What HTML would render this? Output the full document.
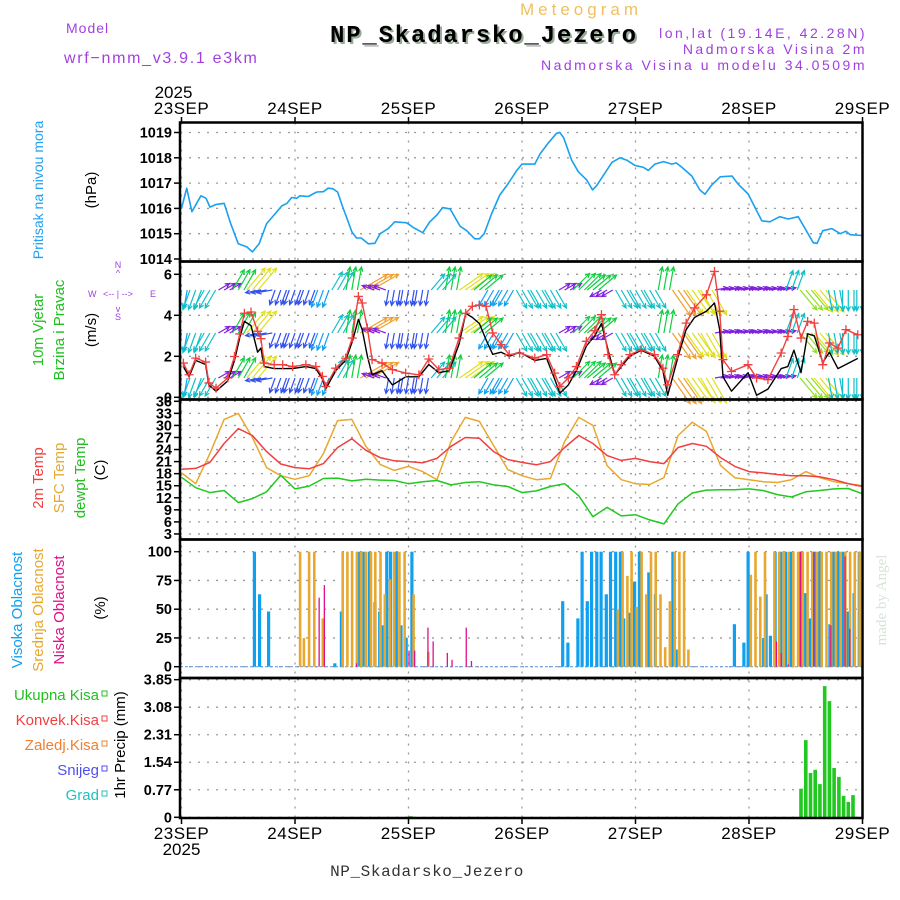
<!DOCTYPE html>
<html><head><meta charset="utf-8"><style>
body{margin:0;background:#fff;}
svg{display:block;font-family:"Liberation Sans",sans-serif;}
</style></head><body>
<svg id="chart" width="900" height="900" viewBox="0 0 900 900" xmlns="http://www.w3.org/2000/svg">
<defs><clipPath id="plotclip"><rect x="180" y="122" width="683" height="697"/></clipPath></defs>
<rect x="0" y="0" width="900" height="900" fill="#fff"/>
<g id="grid"></g>
<g id="marks" clip-path="url(#plotclip)"></g>
<g id="frames"></g>
<g id="labels"></g>

<text x="66" y="33" font-size="14" fill="#a040e0" letter-spacing="1">Model</text>
<text x="64" y="63" font-size="16" fill="#a040e0" letter-spacing="1.7">wrf−nmm_v3.9.1 e3km</text>
<text x="520" y="15" font-size="17" fill="#f0c060" letter-spacing="4">Meteogram</text>
<text x="332" y="44" font-size="24" font-weight="bold" fill="#9a9" font-family="Liberation Mono,monospace" letter-spacing="1.8">NP_Skadarsko_Jezero</text>
<text x="330" y="42" font-size="24" font-weight="bold" fill="#000" font-family="Liberation Mono,monospace" letter-spacing="1.8">NP_Skadarsko_Jezero</text>
<text x="867" y="38" font-size="14" fill="#a040e0" text-anchor="end" letter-spacing="2.5">lon,lat (19.14E, 42.28N)</text>
<text x="867" y="54" font-size="14" fill="#a040e0" text-anchor="end" letter-spacing="2.5">Nadmorska Visina 2m</text>
<text x="867" y="70" font-size="14" fill="#a040e0" text-anchor="end" letter-spacing="2.5">Nadmorska Visina u modelu 34.0509m</text>
<text x="427" y="876" font-size="16" fill="#333" text-anchor="middle" font-family="Liberation Mono,monospace" letter-spacing="0.6">NP_Skadarsko_Jezero</text>
<text transform="translate(886,600) rotate(-90)" font-size="15" fill="#d8e4d8" text-anchor="middle" font-family="Liberation Serif,serif">made by Angel</text>

<text transform="translate(43,190) rotate(-90)" font-size="14" fill="#20a0f0" text-anchor="middle">Pritisak na nivou mora</text>
<text transform="translate(96,190) rotate(-90)" font-size="15" fill="#000" text-anchor="middle">(hPa)</text>
<text transform="translate(43,330) rotate(-90)" font-size="15" fill="#20c020" text-anchor="middle">10m Vjetar</text>
<text transform="translate(64,330) rotate(-90)" font-size="15" fill="#20c020" text-anchor="middle">Brzina i Pravac</text>
<text transform="translate(96,330) rotate(-90)" font-size="15" fill="#000" text-anchor="middle">(m/s)</text>
<g font-size="9" fill="#a040e0">
<text x="118" y="268" text-anchor="middle">N</text><text x="118" y="276" text-anchor="middle">^</text>
<text x="88" y="297">W</text><text x="103" y="297">&lt;-- | --&gt;</text><text x="150" y="297">E</text>
<text x="118" y="312" text-anchor="middle">v</text><text x="118" y="320" text-anchor="middle">S</text>
</g>
<text transform="translate(43,478) rotate(-90)" font-size="15" fill="#f04040" text-anchor="middle">2m Temp</text>
<text transform="translate(64,478) rotate(-90)" font-size="15" fill="#e8a830" text-anchor="middle">SFC Temp</text>
<text transform="translate(85,478) rotate(-90)" font-size="15" fill="#20c020" text-anchor="middle">dewpt Temp</text>
<text transform="translate(105,470) rotate(-90)" font-size="15" fill="#000" text-anchor="middle">(C)</text>
<text transform="translate(22,610) rotate(-90)" font-size="15" fill="#10a0f0" text-anchor="middle">Visoka Oblacnost</text>
<text transform="translate(43,610) rotate(-90)" font-size="15" fill="#e8a830" text-anchor="middle">Srednja Oblacnost</text>
<text transform="translate(64,610) rotate(-90)" font-size="15" fill="#e0108a" text-anchor="middle">Niska Oblacnost</text>
<text transform="translate(105,608) rotate(-90)" font-size="15" fill="#000" text-anchor="middle">(%)</text>
<text transform="translate(125,745) rotate(-90)" font-size="15" fill="#000" text-anchor="middle">1hr Precip (mm)</text>
<g font-size="15" text-anchor="end">
<text x="99" y="700" fill="#20c020">Ukupna Kisa</text><rect x="102" y="691" width="5" height="5" fill="none" stroke="#20c020"/>
<text x="99" y="725" fill="#f04040">Konvek.Kisa</text><rect x="102" y="716" width="5" height="5" fill="none" stroke="#f04040"/>
<text x="99" y="750" fill="#f08030">Zaledj.Kisa</text><rect x="102" y="741" width="5" height="5" fill="none" stroke="#f08030"/>
<text x="99" y="775" fill="#5050f0">Snijeg</text><rect x="102" y="766" width="5" height="5" fill="none" stroke="#5050f0"/>
<text x="99" y="800" fill="#20c0c0">Grad</text><rect x="102" y="791" width="5" height="5" fill="none" stroke="#20c0c0"/>
</g>
</svg>
<script>
// ---- data ----
const dayLabels = ["23SEP","24SEP","25SEP","26SEP","27SEP","28SEP","29SEP"];
const pressHours = [0,1.1,2.2,4.1,5.2,6,7.2,9,10.4,12,13.8,15,16.4,18,19.4,21.2,22.3,23.3,24.4,25,26.8,28.6,30,31,32,33,34,35,36,37,38,39.5,40.9,42,43.7,45.1,47.6,49,51,52.5,54,55.2,56.8,58.9,60.3,62,63,64,65.6,67.3,69,70.9,72,74.7,75.8,77.5,79.3,80,80.8,82.5,83.9,85.7,86.9,87.8,91,92.7,94.2,95.9,97.7,98.7,100.1,101.9,103.7,104.6,105.7,107.9,109.6,110.7,112,113.9,116.4,117.7,119.8,122.7,124.4,126.5,128.3,130.4,133.6,134.4,135.6,137.5,139.3,140.5,141.4,144];
const pressVals = [1016.0,1016.8,1015.87,1016.5,1016.4,1016.05,1016.15,1016.2,1015.4,1014.6,1014.48,1014.28,1014.6,1015.4,1015.7,1016.1,1016.2,1016.43,1016.4,1016.5,1016.47,1016.65,1016.66,1016.8,1016.78,1016.65,1016.1,1015.6,1015.08,1014.83,1014.83,1014.6,1014.62,1015.0,1015.2,1015.47,1015.43,1015.25,1015.04,1015.47,1015.74,1016.03,1015.98,1015.3,1015.12,1014.8,1014.8,1015.0,1015.8,1016.53,1016.96,1017.5,1017.75,1017.75,1018.15,1018.57,1018.97,1019.0,1018.8,1017.9,1017.45,1017.12,1016.73,1016.9,1017.82,1018.0,1017.9,1017.7,1017.62,1017.5,1017.75,1017.85,1017.75,1017.8,1017.64,1017.28,1016.73,1016.56,1016.9,1017.25,1017.28,1016.96,1016.57,1015.51,1015.47,1015.67,1015.58,1015.67,1014.64,1014.62,1015.12,1015.2,1015.0,1015.1,1014.96,1014.93];
const pressTicks = [1014,1015,1016,1017,1018,1019];

const windHours = [0.4,1.6,3,5.1,5.8,7.3,9.8,11.2,12.3,13.3,14.7,16.1,16.8,17.5,19.6,21.4,23.5,26.3,28.4,29.8,30.5,32.6,34.7,36.1,37.4,38.2,39.3,40.3,42.4,44.6,47.4,50.2,52.3,54.4,56.6,58.7,60.1,61.5,63,64.4,65.8,67.6,69.3,71.5,74.7,77.2,78.9,80,81.8,83.5,85.6,87.4,88.8,90.2,91.6,93,94.8,97.2,100,101.8,102.8,104.9,106.7,108.5,111,112.7,113.8,114.5,116.3,119.8,121.6,124,126.8,128.2,129.5,131,132.4,133.8,135.6,137,138.8,140.5,143];
const windSpeed10m = [1.67,1.1,1.91,1.72,0.7,0.45,0.94,1.99,3.09,4.1,4.16,3.22,2.86,1.67,1.59,1.59,1.5,1.59,1.5,1.02,0.53,1.42,1.91,2.89,4.92,4.6,3.38,1.84,1.67,1.35,1.18,1.1,1.87,1.35,1.42,2.89,4.1,4.44,4.5,4.44,3.14,2.57,2.08,2.16,1.91,2.08,1.18,0.53,0.94,1.5,2.73,3.25,4.03,2.08,1.1,1.59,2.08,2.32,2.08,1.42,0.61,2.08,3.62,4.36,5.0,6.14,4.2,1.84,1.26,1.59,0.94,0.86,2.16,2.97,4.28,2.89,3.7,3.62,1.59,2.65,2.4,3.3,3.05];
const windGust = [1.5,1.0,1.8,1.6,0.6,0.3,0.8,1.8,2.9,3.7,3.5,2.2,2.4,1.5,1.4,1.4,1.4,1.5,1.4,0.9,0.4,1.3,1.8,2.7,3.8,3.3,2.0,1.1,1.3,0.6,1.0,1.0,1.6,1.2,1.3,2.6,4.1,3.9,3.6,2.8,2.1,2.2,2.0,2.2,1.8,1.9,0.9,0.2,0.6,1.3,2.5,3.0,3.6,2.3,1.1,1.5,2.0,2.3,2.0,1.3,0.1,1.9,3.3,3.9,4.2,4.6,3.3,1.0,0.3,1.2,0.1,0.4,1.4,1.5,2.3,1.2,3.1,3.0,1.7,2.2,1.4,1.6,1.9];
const windTicks = [0,2,4,6];
const arrowHours = [0,3,6,9,12,15,18,21,24,27,30,33,36,39,42,45,48,51,54,57,60,63,66,69,72,75,78,81,84,87,90,93,96,99,102,105,108,111,114,117,120,123,126,129,132,135,138,141,144];
const arrowDir = [190,200,210,60,30,40,260,200,200,200,200,30,10,60,290,190,190,190,40,10,55,50,210,210,150,150,150,60,45,50,240,150,150,150,10,145,145,150,80,80,80,80,80,20,140,140,170,180,180];
const arrowClass = [2,3,3,0,4,6,1,1,1,1,2,3,4,7,0,1,1,1,3,4,6,4,2,2,3,3,3,0,4,4,0,3,3,3,4,7,6,6,0,0,0,0,0,3,5,6,3,3,3];

const tempHours = [0,3,6,9,12,15,18,21,24,27,30,33,36,39,42,45,48,51,54,57,60,63,66,69,72,75,78,81,84,87,90,93,96,99,102,105,108,111,114,117,120,123,126,129,132,135,138,141,144];
const temp2m = [19.1,19.3,20.8,25.5,29.2,27.5,23.5,20.4,19.5,19.2,20.5,24.5,26.7,23.8,22.0,21.2,21.0,20.7,21.8,24.8,27.0,26.8,23.5,21.5,20.8,20.2,21.0,24.5,27.5,25.5,22.5,21.3,21.8,21.0,20.5,24.5,25.5,24.8,22.0,19.8,18.5,18.2,17.8,17.5,17.5,17.2,16.5,15.5,14.8];
const tempSfc = [18.2,15.5,23.0,31.5,33.0,27.0,19.5,17.5,16.6,17.5,23.0,31.2,31.5,24.8,20.3,18.8,19.8,18.5,16.5,26.0,32.0,31.0,25.0,19.0,17.5,16.5,16.8,26.0,32.0,30.0,20.0,16.5,15.5,15.3,17.0,27.5,30.8,28.5,20.0,17.0,16.5,16.0,15.8,16.5,18.5,17.0,16.0,15.5,15.0];
const tempDew = [17.1,14.5,13.3,13.8,10.8,11.8,13.5,17.6,14.2,14.9,16.8,16.9,16.2,16.6,16.4,16.3,15.5,16.0,16.3,15.2,15.8,16.0,15.2,14.8,13.3,13.7,14.8,15.5,12.5,7.3,9.6,7.5,7.8,6.5,5.5,10.5,13.2,13.9,14.0,14.0,14.2,13.8,12.8,12.2,13.5,13.8,14.2,14.3,13.0];
const tempTicks = [3,6,9,12,15,18,21,24,27,30,33,36];

const highHours = [15.5,16.6,18.5,32.5,33.9,37.7,38.7,39.8,41,42,42.6,43.5,44.3,45.5,46.5,47.6,48.8,80.7,81.8,83.9,84.8,85.9,86.8,87.9,88.8,89.9,90.8,91.9,92.9,93.6,94.8,95.9,96.9,98.9,100.3,104,104.7,117,119,119.9,123.2,123.7,124.6,125.6,126.8,127.8,128.9,131,131.9,133,134,135,137.2,138,139,140,141,142.3,143.4];
const highVals = [100,63,48,3,48,100,100,100,56,48,36,100,100,100,36,25,100,57,21,42,100,57,100,100,100,63,100,100,100,42,47,74,100,82,63,100,15,37,21,100,25,63,27,100,100,100,100,100,64,42,100,100,37,100,100,100,48,64,100];
const midHours = [24.7,25.5,26.6,27.7,29.5,33.7,34.7,35.7,36.7,37.6,38.6,39.7,40.6,41.7,42.6,43.7,44.6,45.7,46.8,48.7,51.8,91.9,92.9,93.9,94.8,95.9,96.9,97.9,98.9,99.9,100.9,101.9,102.9,103.9,104.9,105.9,106.8,120,121,122,123,125,126,127,128,129,130,131,132,133,134,135,136,137,138,139,140,141,142,143];
const midVals = [100,25,100,100,42,100,100,100,100,100,100,100,100,100,63,76,100,100,100,63,13,50,100,79,100,52,100,63,100,100,63,17,57,100,100,100,15,80,100,61,100,100,100,100,100,100,100,100,100,100,100,100,100,100,100,100,100,100,100,100];
const lowHours = [28.8,29.9,36.7,47.8,49,51.8,52.9,55.9,56.9,59.9,61,125.5,126.5,128,130.6,133.4,137,140,141];
const lowVals = [60,71,3,14,14,34,22,12,6,34,5,22,12,2,100,100,36,96,33];
const cloudTicks = [0,25,50,75,100];

const precipHours = [48.5,131,132,133,134,135,136,137,138,139,140,141,142];
const precipVals = [0.03,0.80,2.16,1.24,1.33,0.93,3.67,3.25,1.38,1.13,0.60,0.43,0.62];
const precipTicks = [0,0.77,1.54,2.31,3.08,3.85];

// ---- axes ----
const X0 = 181.5, DAYPX = 113.5, XL = 180, XR = 862.5;
function xh(h){ return X0 + h*DAYPX/24; }
const yP = v => 259 - (v-1014)*25.3;
const yW = v => 397.3 - v*20.5;
const yT = v => 401.3 + (36-v)*4.02;
const yC = v => 666.7 - v*1.15;
const yR = v => 817.3 - v*35.75;
const panels = [[122.5,261.5],[261.5,399.5],[399.5,539.5],[539.5,678],[678,818]];
const NS = "http://www.w3.org/2000/svg";
function el(parent, tag, attrs){ const e = document.createElementNS(NS, tag); for (const k in attrs) e.setAttribute(k, attrs[k]); document.getElementById(parent).appendChild(e); return e; }

function hgrid(fn, ticks, labels, name){
  ticks.forEach((t,i)=>{
    const y = fn(t);
    const g = el('grid','line',{x1:XL,x2:XR,y1:y,y2:y,stroke:'#9a9a9a','stroke-width':1.3,'stroke-dasharray':'2,7'});
    
    
    const tk = el('frames','line',{x1:XL-6,x2:XL,y1:y,y2:y,stroke:'#000','stroke-width':1.5});
    
    
    const tx = el('labels','text',{x:XL-8,y:y+5,'font-size':14.5,'font-weight':'bold','text-anchor':'end',fill:'#000'});
    tx.textContent = labels ? labels[i] : String(t);
    
    
  });
}
hgrid(yP, pressTicks, null, 'pressure');
hgrid(yW, windTicks, null, 'wind');
hgrid(yT, tempTicks, null, 'temp');
hgrid(yC, cloudTicks, null, 'cloud');
hgrid(yR, precipTicks, precipTicks.map(v=>v===0?'0':v.toFixed(2)), 'precip');

dayLabels.forEach((d,i)=>{
  const x = X0 + i*DAYPX;
  const v = el('grid','line',{x1:x,x2:x,y1:122.5,y2:818,stroke:'#9a9a9a','stroke-width':1.3,'stroke-dasharray':'2,7'});
  
  
  const t1 = el('labels','text',{x:x,y:114,'font-size':17,'text-anchor':'middle',fill:'#000','letter-spacing':0.5});
  t1.textContent = d;
  
  
  const t2 = el('labels','text',{x:x,y:839,'font-size':17,'text-anchor':'middle',fill:'#000','letter-spacing':0.5});
  t2.textContent = d;
  
  
  [[117,123],[818,824]].forEach(p=>{ const tk = el('frames','line',{x1:x,x2:x,y1:p[0],y2:p[1],stroke:'#000','stroke-width':1.5});
    
     });
});
const yr1 = el('labels','text',{x:X0-8,y:98,'font-size':17,'text-anchor':'middle',fill:'#000'}); yr1.textContent='2025';


const yr2 = el('labels','text',{x:X0,y:855,'font-size':17,'text-anchor':'middle',fill:'#000'}); yr2.textContent='2025';



panels.forEach((p,i)=>{
  const r = el('frames','rect',{x:XL,y:p[0],width:XR-XL,height:p[1]-p[0],fill:'none',stroke:'#000','stroke-width':2.5});
  
  
});

function line(hours, vals, fn, color, name, w){
  const d = hours.map((h,i)=>(i?'L':'M')+xh(h).toFixed(1)+','+fn(vals[i]).toFixed(1)).join(' ');
  const p = el('marks','path',{d:d,fill:'none',stroke:color,'stroke-width':w||1.5,'stroke-linejoin':'round'});
  
  
}
line(pressHours, pressVals, yP, '#1aa0f0', 'pressure-line', 1.6);

const arrowColors = ['#8020e0','#3050f0','#10a0f0','#10c0c8','#10d040','#90e020','#e0e020','#f0a030'];
const rows = [290, 333, 378];
arrowHours.forEach((h,i)=>{
  const len = 13 + arrowClass[i]*2.6;
  const a = arrowDir[i]*Math.PI/180;
  const col = arrowColors[arrowClass[i]];
  rows.forEach(ry=>{
    [-1.2,0,1.2].forEach(off=>{
      const x0 = xh(h+off), dx = Math.sin(a)*len, dy = -Math.cos(a)*len;
      const x1 = x0+dx, y1 = ry+dy;
      const ha = Math.atan2(dy,dx);
      const hx1 = x1 - 5*Math.cos(ha-0.45), hy1 = y1 - 5*Math.sin(ha-0.45);
      const hx2 = x1 - 5*Math.cos(ha+0.45), hy2 = y1 - 5*Math.sin(ha+0.45);
      const p = el('marks','path',{d:`M${x0.toFixed(1)},${ry} L${x1.toFixed(1)},${y1.toFixed(1)} M${hx1.toFixed(1)},${hy1.toFixed(1)} L${x1.toFixed(1)},${y1.toFixed(1)} L${hx2.toFixed(1)},${hy2.toFixed(1)}`,stroke:col,'stroke-width':1.2,fill:'none'});
      
      
    });
  });
});
line(windHours, windGust, yW, '#000', 'wind-speed-line', 1.4);
line(windHours, windSpeed10m, yW, '#f04040', 'wind-10m-line', 1.4);
windHours.forEach((h,i)=>{
  const x = xh(h), y = yW(windSpeed10m[i]);
  const m = el('marks','path',{d:`M${x-4.5},${y} H${x+4.5} M${x},${y-4.5} V${y+4.5}`,stroke:'#f04040','stroke-width':1.3});
  
  
});

line(tempHours, tempSfc, yT, '#e8a830', 'sfc-temp-line', 1.5);
line(tempHours, temp2m, yT, '#f04040', 't2m-line', 1.5);
line(tempHours, tempDew, yT, '#20c820', 'dewpoint-line', 1.5);

const bl = el('marks','line',{x1:XL,x2:XR,y1:yC(0),y2:yC(0),stroke:'#6fa0e0','stroke-width':1.2,'stroke-dasharray':'3,2'});


function bars(hours, vals, color, off, w, name){
  hours.forEach((h,i)=>{
    const x = xh(h)+off, y = yC(vals[i]);
    const r = el('marks','rect',{x:x.toFixed(1),y:y.toFixed(1),width:w,height:(yC(0)-y).toFixed(1),fill:color});
    
    
  });
}
bars(highHours, highVals, '#10a0f0', -2, 3.2, 'high-cloud-bar');
bars(midHours, midVals, '#e8a830', 0.5, 2.6, 'mid-cloud-bar');
bars(lowHours, lowVals, '#e0108a', 0.8, 1.3, 'low-cloud-bar');

precipHours.forEach((h,i)=>{
  const x = xh(h)-1.8, y = yR(precipVals[i]);
  const r = el('marks','rect',{x:x.toFixed(1),y:y.toFixed(1),width:3.6,height:Math.max(1,yR(0)-y).toFixed(1),fill:'#20c820'});
  
  
});
</script>
</body></html>
